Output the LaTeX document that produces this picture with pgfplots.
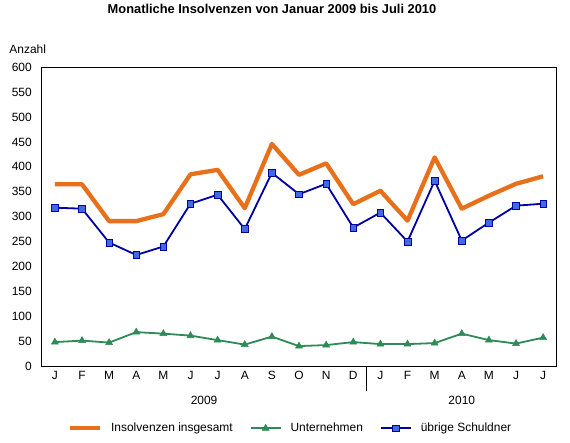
\documentclass[border=0pt]{standalone}
\usepackage{fontspec}
\setmainfont{Liberation Sans}
\usepackage{pgfplots}
\pgfplotsset{compat=1.18}
\definecolor{orangeL}{RGB}{232,112,26}
\definecolor{greenL}{RGB}{46,139,87}
\definecolor{navyL}{RGB}{0,0,160}
\definecolor{blueM}{RGB}{65,105,225}
\begin{document}
\begin{tikzpicture}[x=1bp,y=1bp]
\useasboundingbox (0,0) rectangle (570,443);
\begin{axis}[
 at={(41.3bp,77bp)}, anchor=south west,
 scale only axis, width=515.4bp, height=298.7bp,
 xmin=-0.5, xmax=18.5, ymin=0, ymax=600,
 xtick={0,...,18},
 xticklabels={J,F,M,A,M,J,J,A,S,O,N,D,J,F,M,A,M,J,J},
 ytick={0,50,...,600},
 major tick length=0pt,
 axis line style={black, line width=0.8bp},
 tick label style={font=\fontsize{12}{14}\selectfont},
 /pgf/number format/assume math mode=true,
 yticklabel style={xshift=-6bp},
 xticklabel style={yshift=-2bp},
 clip=false,
 title={Monatliche Insolvenzen von Januar 2009 bis Juli 2010},
 title style={at={(0.4476,1.175)}, anchor=center, inner sep=0pt, font=\bfseries\fontsize{12.9}{15}\selectfont},
 ylabel={Anzahl},
 every axis y label/.style={at={(rel axis cs:0,1)}, anchor=west, inner sep=0pt, xshift=-32bp, yshift=18.3bp, font=\fontsize{12}{14}\selectfont},
 legend columns=3,
 legend style={at={(0.4835,-0.2086)}, anchor=center, draw=none, fill=none, inner sep=0pt,
   font=\fontsize{12}{14}\selectfont,
   /tikz/every odd column/.append style={column sep=7bp},
   /tikz/every even column/.append style={column sep=15bp}},
 legend image code/.code={\draw[mark repeat=2,mark phase=2,#1] plot coordinates {(0bp,0bp) (15bp,0bp) (30bp,0bp)};},
]
\addplot[orangeL, line width=4.3bp, no markers, line join=round] coordinates {
(0,365) (1,365) (2,291) (3,291) (4,305) (5,385) (6,394) (7,317) (8,446) (9,384)
(10,407) (11,325) (12,352) (13,292) (14,419) (15,316) (16,342) (17,366) (18,381)};
\addlegendentry{Insolvenzen insgesamt}
\addplot[greenL, line width=1.8bp, mark=triangle*, mark size=4bp, mark options={solid, fill=greenL, draw=greenL, line width=0.5bp}] coordinates {
(0,48) (1,51) (2,47) (3,68) (4,65) (5,61) (6,52) (7,43) (8,59) (9,40)
(10,42) (11,48) (12,44) (13,44) (14,46) (15,65) (16,52) (17,45) (18,57)};
\addlegendentry{Unternehmen}
\addplot[navyL, line width=1.8bp, mark=square*, mark size=3.3bp, mark options={solid, fill=blueM, draw=navyL, line width=0.6bp}] coordinates {
(0,318) (1,316) (2,248) (3,223) (4,240) (5,326) (6,344) (7,275) (8,388) (9,345)
(10,366) (11,278) (12,308) (13,250) (14,372) (15,252) (16,288) (17,322) (18,326)};
\addlegendentry{übrige Schuldner}
\draw[black, line width=0.8bp] (axis cs:11.5,0) -- ++(0bp,-25bp);
\node[font=\fontsize{12}{14}\selectfont] at (axis cs:5.5,0) [yshift=-34.7bp] {2009};
\node[font=\fontsize{12}{14}\selectfont] at (axis cs:15,0) [yshift=-34.7bp] {2010};
\end{axis}
\end{tikzpicture}
\end{document}
